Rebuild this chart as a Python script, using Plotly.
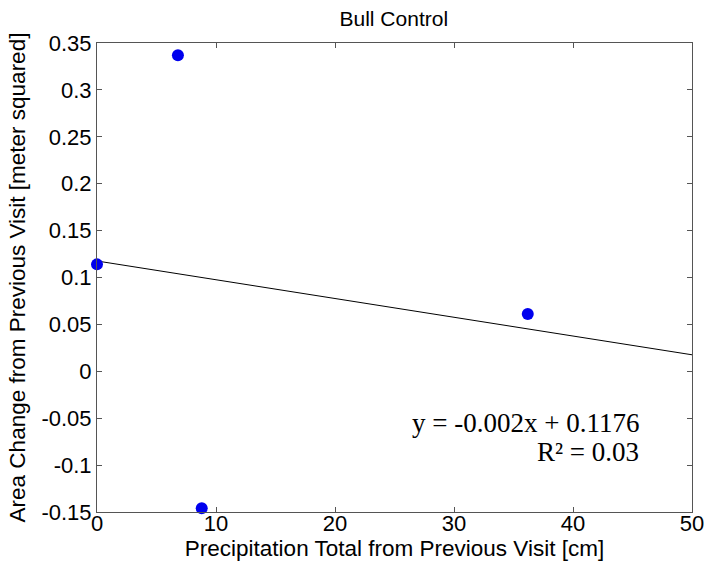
import plotly.graph_objects as go

precip_cm = [0.0, 6.8, 8.8, 36.2]
area_change = [0.114, 0.337, -0.146, 0.061]
fit_slope = -0.002
fit_intercept = 0.1176
fit_x = [0, 50]
fit_y = [fit_slope * v + fit_intercept for v in fit_x]
x_ticks = [0, 10, 20, 30, 40, 50]
y_ticks = [-0.15, -0.1, -0.05, 0, 0.05, 0.1, 0.15, 0.2, 0.25, 0.3, 0.35]
y_tick_labels = ["-0.15", "-0.1", "-0.05", "0", "0.05", "0.1", "0.15", "0.2", "0.25", "0.3", "0.35"]

SANS = "Liberation Sans, Arial"
fig = go.Figure()
fig.add_trace(go.Scatter(x=fit_x, y=fit_y, mode="lines",
                         line=dict(color="black", width=1), showlegend=False))
fig.add_trace(go.Scatter(x=precip_cm, y=area_change, mode="markers",
                         marker=dict(color="#0000EE", size=12), showlegend=False,
                         cliponaxis=False))

axis_common = dict(showgrid=False, zeroline=False, showline=True, linecolor="#555555",
                   linewidth=1, mirror="ticks", ticks="inside", ticklen=5, automargin=False,
                   tickcolor="#555555", tickfont=dict(family=SANS, size=22, color="black"))

fig.update_xaxes(range=[0, 50], tickvals=x_ticks, ticktext=[str(v) for v in x_ticks],
                 ticklabelstandoff=-8,
                 title=dict(text="Precipitation Total from Previous Visit [cm]",
                            font=dict(family=SANS, size=22.5, color="black"), standoff=4),
                 **axis_common)
fig.update_yaxes(range=[-0.15, 0.35], tickvals=y_ticks, ticktext=y_tick_labels,
                 ticklabelstandoff=0,
                 title=dict(text="Area Change from Previous Visit [meter squared]",
                            font=dict(family=SANS, size=22.5, color="black"), standoff=9),
                 **axis_common)

fig.add_annotation(x=0.915, y=0.19, xref="paper", yref="paper", xanchor="right", yanchor="middle",
                   text="y = -0.002x + 0.1176", showarrow=False, align="right",
                   font=dict(family="Liberation Serif, Times New Roman", size=27, color="black"))
fig.add_annotation(x=0.915, y=0.128, xref="paper", yref="paper", xanchor="right", yanchor="middle",
                   text="R² = 0.03", showarrow=False, align="right",
                   font=dict(family="Liberation Serif, Times New Roman", size=27, color="black"))

fig.update_layout(
    width=707, height=573,
    margin=dict(l=97, r=15, t=43, b=61),
    paper_bgcolor="white", plot_bgcolor="white",
    title=dict(text="Bull Control", x=0.557, xanchor="center", y=0.967, yanchor="middle",
               font=dict(family=SANS, size=21, color="black")),
)

fig.write_html("out.html", config={"displayModeBar": False},
               post_script="document.body.style.margin='0px';document.body.style.overflow='hidden';")
